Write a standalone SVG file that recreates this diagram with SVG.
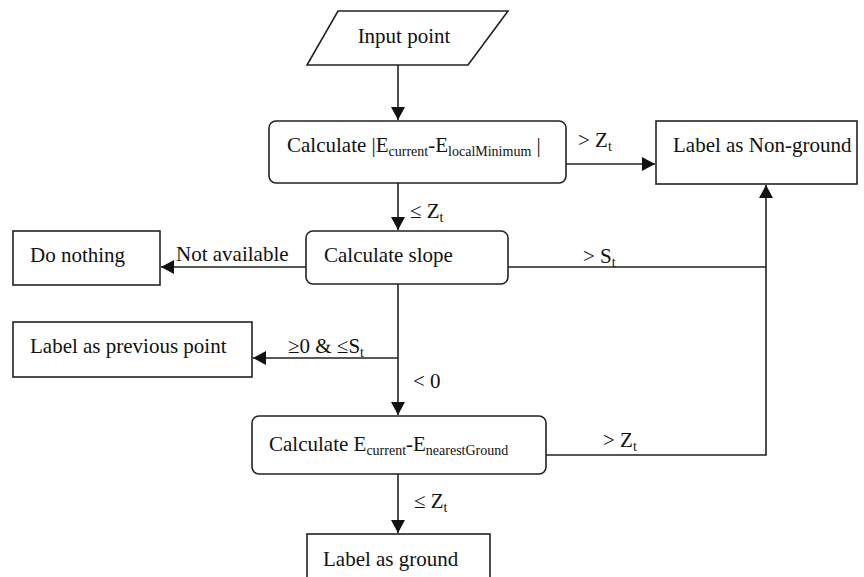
<svg xmlns="http://www.w3.org/2000/svg" width="864" height="577" viewBox="0 0 864 577">
<style>
.n{fill:#fff;stroke:#222;stroke-width:1.6}
.t{font-family:"Liberation Serif","Times New Roman",serif;font-size:21px;fill:#111}
.s{font-size:14px}
.c{fill:none;stroke:#222;stroke-width:1.6}
</style>
<defs>
<marker id="ah" markerUnits="userSpaceOnUse" markerWidth="14" markerHeight="14" refX="13" refY="7" orient="auto">
<path d="M0,0 L13,7 L0,14 z" fill="#111"/>
</marker>
</defs>
<rect width="864" height="577" fill="#fff"/>
<g id="connectors">
<line class="c" x1="398" y1="65" x2="398" y2="120" marker-end="url(#ah)"/>
<line class="c" x1="566" y1="164" x2="655" y2="164" marker-end="url(#ah)"/>
<line class="c" x1="398" y1="183" x2="398" y2="230" marker-end="url(#ah)"/>
<line class="c" x1="306" y1="267" x2="161" y2="267" marker-end="url(#ah)"/>
<line class="c" x1="508" y1="267" x2="766" y2="267"/>
<polyline class="c" points="546,455 766,455 766,185" marker-end="url(#ah)"/>
<line class="c" x1="398" y1="284" x2="398" y2="415" marker-end="url(#ah)"/>
<line class="c" x1="398" y1="358" x2="253" y2="358" marker-end="url(#ah)"/>
<line class="c" x1="398" y1="474" x2="398" y2="533" marker-end="url(#ah)"/>
<text class="t" x="578" y="147">&gt; Z<tspan class="s" dy="4">t</tspan></text>
<text class="t" x="410" y="218">≤ Z<tspan class="s" dy="4">t</tspan></text>
<text class="t" x="176" y="261">Not available</text>
<text class="t" x="583" y="263">&gt; S<tspan class="s" dy="4">t</tspan></text>
<text class="t" x="288" y="353">≥0 &amp; ≤S<tspan class="s" dy="4">t</tspan></text>
<text class="t" x="413" y="388">&lt; 0</text>
<text class="t" x="603" y="447">&gt; Z<tspan class="s" dy="4">t</tspan></text>
<text class="t" x="414" y="508">≤ Z<tspan class="s" dy="4">t</tspan></text>
</g>
<g id="input">
<polygon class="n" points="338,11 508,11 468,65 307,65"/>
<text class="t" x="404" y="43" text-anchor="middle">Input point</text>
</g>
<g id="calc-local">
<rect class="n" x="269" y="121" width="297" height="62" rx="7"/>
<text class="t" x="287" y="152">Calculate |E<tspan class="s" dy="4">current</tspan><tspan dy="-4">-E</tspan><tspan class="s" dy="4">localMinimum</tspan><tspan dy="-4"> |</tspan></text>
</g>
<g id="nonground">
<rect class="n" x="656" y="121" width="201" height="63"/>
<text class="t" x="673" y="152">Label as Non-ground</text>
</g>
<g id="slope">
<rect class="n" x="306" y="231" width="202" height="53" rx="7"/>
<text class="t" x="324" y="262">Calculate slope</text>
</g>
<g id="donothing">
<rect class="n" x="13" y="231" width="147" height="54"/>
<text class="t" x="30" y="262">Do nothing</text>
</g>
<g id="previous">
<rect class="n" x="13" y="322" width="239" height="55"/>
<text class="t" x="30" y="353">Label as previous point</text>
</g>
<g id="calc-nearest">
<rect class="n" x="252" y="416" width="294" height="58" rx="7"/>
<text class="t" x="269" y="451">Calculate E<tspan class="s" dy="4">current</tspan><tspan dy="-4">-E</tspan><tspan class="s" dy="4">nearestGround</tspan></text>
</g>
<g id="ground">
<rect class="n" x="307" y="534" width="183" height="60"/>
<text class="t" x="323" y="566">Label as ground</text>
</g>
</svg>
